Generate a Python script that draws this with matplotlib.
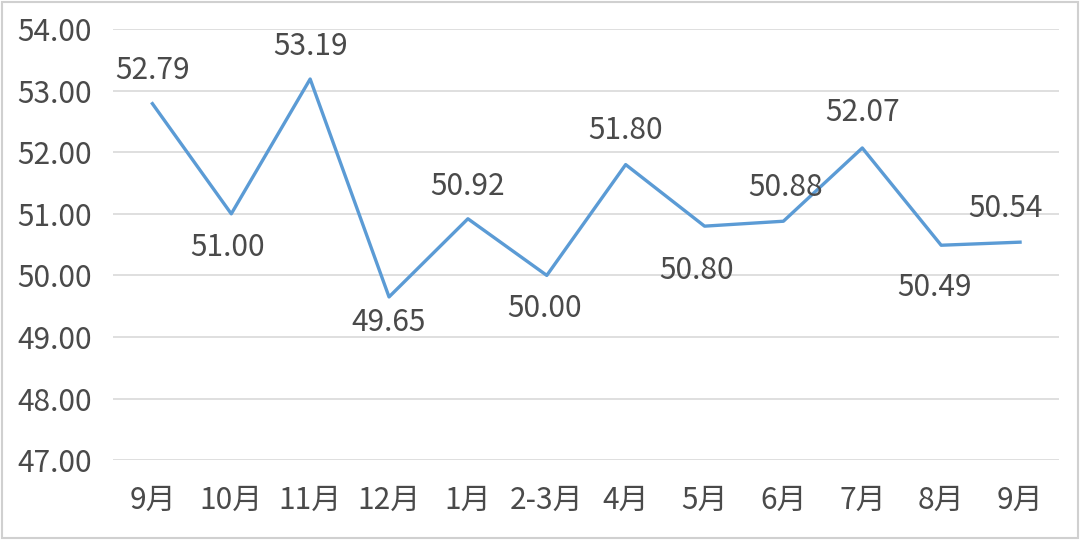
import matplotlib.pyplot as plt
from matplotlib.patches import Rectangle

plt.rcParams['font.family'] = ['Noto Sans CJK SC', 'DejaVu Sans']

#data
months = ['9月', '10月', '11月', '12月', '1月', '2-3月', '4月', '5月', '6月', '7月', '8月', '9月']
values = [52.79, 51.00, 53.19, 49.65, 50.92, 50.00, 51.80, 50.80, 50.88, 52.07, 50.49, 50.54]

#label offsets in pixels (dx, dy), like the excel data labels
label_offsets = [(0, 33), (-4, -34), (0, 33), (0, -26), (0, 32), (-2, -33),
                 (0, 34), (-8, -44), (2, 34), (0, 35), (-7, -42), (-15, 34)]

text_color = '#4a4a4a'
line_color = '#5B9BD5'
grid_color = '#D9D9D9'
fs = 21.5

fig = plt.figure(figsize=(10.8, 5.4), dpi=100)
ax = fig.add_axes([0.1046, 0.148, 0.8764, 0.798])

x = list(range(len(months)))
ax.plot(x, values, color=line_color, linewidth=2.4)

#data labels
for i, v in enumerate(values):
    dx, dy = label_offsets[i]
    ax.annotate(f'{v:.2f}', (i, v), xytext=(dx, dy), textcoords='offset pixels',
                ha='center', va='center', fontsize=fs, color=text_color)

ax.set_xlim(-0.5, len(months) - 0.5)
ax.set_ylim(47, 54)
ax.set_yticks(range(47, 55))
ax.set_yticklabels([f'{t:.2f}' for t in range(47, 55)])
ax.set_xticks(x)
ax.set_xticklabels(months)
ax.tick_params(axis='both', length=0, labelsize=fs, labelcolor=text_color)
ax.tick_params(axis='y', pad=15)
ax.tick_params(axis='x', pad=18)

ax.grid(axis='y', color=grid_color, linewidth=1.2)
ax.set_axisbelow(True)
for s in ax.spines.values():
    s.set_visible(False)

#outer border
fig.patches.append(Rectangle((0.002, 0.003), 0.996, 0.994, transform=fig.transFigure,
                             fill=False, edgecolor='#D0D0D0', linewidth=1.5))

fig.savefig('out.png', dpi=100)
